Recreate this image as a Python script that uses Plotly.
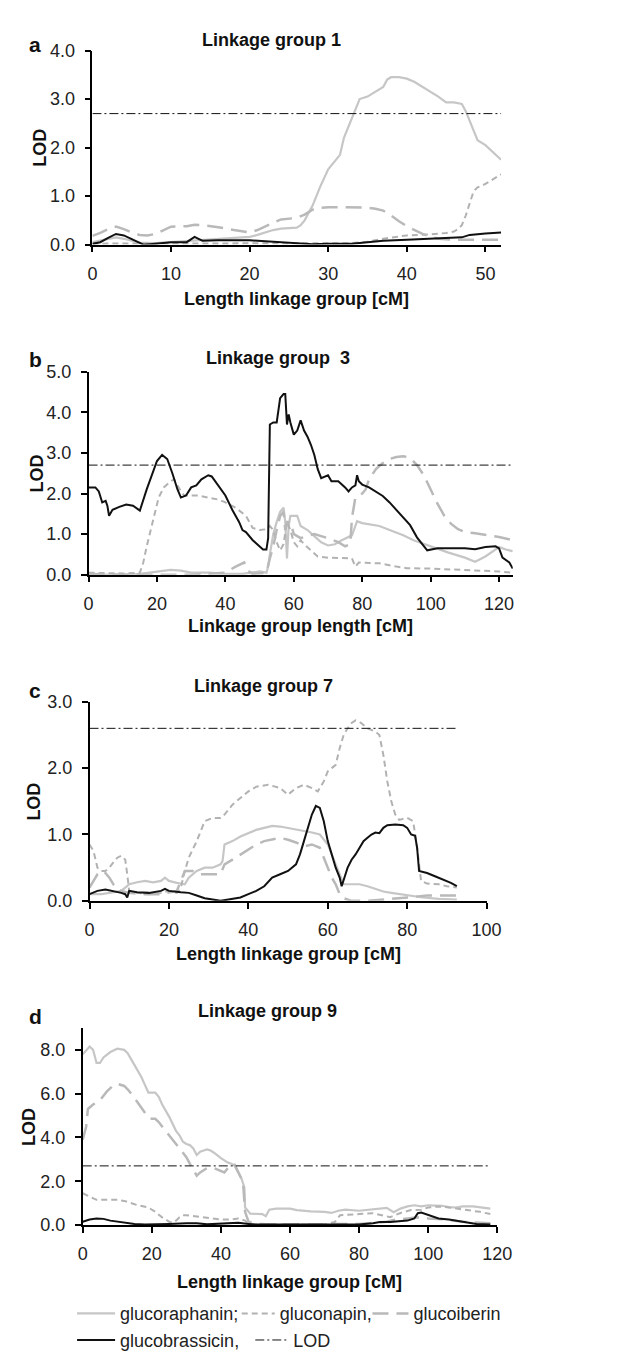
import plotly.graph_objects as go

# ---------------- DATA ----------------
# Linkage group 1
lg1_raphanin_x = [0,1,2,3,4,5,6,8,10,12,14,16,18,20,21,22,23,24,25,26,26.5,27,28,28.5,29,30,31,31.5,32,33,34,35,36,37,37.5,38,39,40,41,42,43,44,45,46,47,47.5,48,49,50,51,52]
lg1_raphanin_y = [0.05,0.08,0.12,0.15,0.12,0.08,0.04,0.03,0.05,0.07,0.1,0.12,0.14,0.16,0.2,0.25,0.3,0.33,0.34,0.35,0.4,0.5,0.8,1.0,1.2,1.55,1.75,1.85,2.2,2.6,3.0,3.05,3.15,3.25,3.4,3.45,3.45,3.42,3.35,3.25,3.15,3.05,2.93,2.93,2.9,2.75,2.55,2.15,2.05,1.9,1.75]
lg1_napin_x = [0,5,10,15,20,25,30,33,35,37,40,43,45,46,46.5,47,47.5,48,48.5,49,50,51,52]
lg1_napin_y = [0.02,0.02,0.03,0.03,0.03,0.02,0.02,0.03,0.06,0.12,0.19,0.21,0.24,0.27,0.32,0.4,0.6,0.85,1.1,1.18,1.25,1.35,1.45]
lg1_iberin_x = [0,1,2,3,4,5,6,7,8,9,10,12,13,14,16,18,20,21,22,23,24,26,27,28,29,30,32,34,35,36,37,38,39,40,41,42,43,44,46,48,50,52]
lg1_iberin_y = [0.18,0.24,0.32,0.37,0.32,0.25,0.2,0.19,0.22,0.3,0.37,0.38,0.41,0.4,0.36,0.3,0.25,0.3,0.38,0.45,0.52,0.55,0.62,0.72,0.76,0.77,0.77,0.77,0.76,0.74,0.7,0.6,0.48,0.38,0.3,0.22,0.16,0.12,0.1,0.1,0.1,0.1]
lg1_brassicin_x = [0,1,2,3,4,5,6,6.5,8,10,12,12.5,13,13.5,14,16,20,22,24,26,28,30,33,35,37,40,42,45,47,48,49,50,52]
lg1_brassicin_y = [0.02,0.05,0.14,0.22,0.19,0.12,0.04,0.0,0.02,0.05,0.05,0.1,0.16,0.12,0.08,0.09,0.09,0.07,0.05,0.04,0.01,0.02,0.02,0.05,0.08,0.1,0.11,0.13,0.15,0.2,0.22,0.23,0.25]
lg1_lod_x = [0, 52]
lg1_lod_y = [2.7, 2.7]

# Linkage group 3
lg3_raphanin_x = [0,10,15,20,24,27,30,35,40,45,48,50,52,52.5,53,54,55,56,57,57.5,58,58.5,59,61,62,64,66,68,70,72,74,76,77,78,78.5,80,85,88,92,95,100,105,110,113,116,120,122,124]
lg3_raphanin_y = [0.0,0.0,0.02,0.08,0.12,0.1,0.05,0.05,0.02,0.02,0.05,0.08,0.05,0.2,0.5,1.0,1.3,1.55,1.65,1.3,0.4,1.2,1.45,1.45,1.2,1.1,0.95,0.8,0.72,0.75,0.85,0.92,0.97,1.2,1.32,1.27,1.2,1.1,0.97,0.85,0.7,0.55,0.42,0.32,0.45,0.68,0.62,0.58]
lg3_napin_x = [0,10,15,16,17,18,19,20.5,22,24,25,26,27,28,30,32,35,38,40,43,46,48,50,52,53,54,55,56,57,58,59,60,61,62,63,65,67,70,75,77,77.5,78,79,85,90,93,100,110,120,124]
lg3_napin_y = [0.05,0.03,0.05,0.3,0.7,1.05,1.4,1.9,2.15,2.3,2.35,2.2,2.05,1.95,1.95,1.95,1.9,1.85,1.78,1.65,1.45,1.15,1.1,1.12,1.2,1.1,0.8,0.6,0.75,1.3,1.1,0.8,0.7,0.85,0.75,0.6,0.45,0.42,0.4,0.4,0.3,0.2,0.3,0.28,0.2,0.16,0.15,0.12,0.08,0.05]
lg3_iberin_x = [0,10,20,30,40,43,45.5,46.5,48,52,53,54,55,56,57,57.5,58,59,60,62,64,66,68,70,73,75,76.5,77,78,80,81,82,84,86,88,90,92,94,96,98,100,102,104,106,108,110,113,116,120,124]
lg3_iberin_y = [0.02,0.0,0.0,0.0,0.05,0.2,0.3,0.1,0.02,0.05,0.4,0.7,1.1,1.45,1.55,1.1,1.3,1.3,1.0,0.9,0.95,1.0,0.95,0.9,0.8,0.7,0.75,1.4,1.9,2.0,2.1,2.35,2.6,2.75,2.85,2.9,2.92,2.88,2.7,2.45,2.1,1.75,1.45,1.25,1.12,1.05,1.02,0.98,0.93,0.85]
lg3_brassicin_x = [0,2,3,4,5,5.5,6,7,9,11,13,15,17,19,20,21.5,23,24.5,26,27,28.5,30,31.5,33,35,36,38,40,42,44,45,46,48,50,51,52,52.5,53,54,55,55.5,56,57,57.5,58,58.5,59,60,61,62,63,64,65,66,67,68,70,71,73,75,76,77,78,78.5,79,80,82,84,86,88,90,92,94,96,98,99,102,105,108,110,113,116,119,120,121,123,124]
lg3_brassicin_y = [2.15,2.15,2.05,1.78,1.82,1.7,1.45,1.6,1.67,1.73,1.7,1.58,2.1,2.6,2.8,2.95,2.85,2.5,2.1,1.9,1.95,2.15,2.2,2.35,2.45,2.42,2.2,1.95,1.6,1.3,1.1,1.05,0.85,0.7,0.62,0.62,0.9,3.7,3.75,3.75,4.1,4.35,4.45,4.45,3.7,3.95,3.75,3.45,3.55,3.8,3.55,3.4,3.2,2.95,2.6,2.38,2.45,2.3,2.3,2.15,2.05,2.15,2.2,2.45,2.3,2.22,2.15,2.05,1.94,1.78,1.6,1.42,1.22,0.92,0.7,0.6,0.65,0.65,0.65,0.65,0.63,0.68,0.7,0.65,0.42,0.3,0.15]
lg3_lod_x = [0, 124]
lg3_lod_y = [2.7, 2.7]

# Linkage group 7
lg7_raphanin_x = [0,3,5,8,9,10,12,14,16,18,19,20,22,24,25,27,29,31,33,33.5,34,36,38,40,42,44,46,48,50,52,54,56,58,60,61,62,63,64,66,68,70,72,74,76,78,80,84,88,92.5]
lg7_raphanin_y = [0.1,0.1,0.12,0.15,0.2,0.25,0.28,0.3,0.28,0.3,0.35,0.3,0.27,0.25,0.35,0.45,0.5,0.5,0.55,0.6,0.85,0.9,0.97,1.02,1.07,1.1,1.13,1.12,1.1,1.08,1.05,1.03,1.0,0.85,0.7,0.55,0.4,0.25,0.25,0.25,0.22,0.18,0.14,0.12,0.1,0.08,0.05,0.03,0.02]
lg7_napin_x = [0,1,2,3,4,5,6,7,8,9,9.5,10,12,15,18,20,22,23,24,25,27,29,31,33,34,36,38,40,42,45,48,50,52,54,56,57.5,59,60,61,62,63,64,65,66,67,68,70,72,73,74,75,76,77,78,80,81.5,82.5,83,83.5,85,88,90,92.5]
lg7_napin_y = [0.85,0.75,0.5,0.45,0.45,0.5,0.58,0.65,0.68,0.62,0.4,0.15,0.12,0.1,0.12,0.15,0.12,0.2,0.45,0.65,0.9,1.2,1.25,1.25,1.3,1.45,1.55,1.65,1.72,1.75,1.7,1.6,1.7,1.75,1.7,1.65,1.8,1.95,2.0,2.05,2.3,2.5,2.6,2.68,2.72,2.7,2.6,2.55,2.5,2.2,1.8,1.5,1.3,1.22,1.25,1.2,0.8,0.5,0.3,0.26,0.25,0.22,0.2]
lg7_iberin_x = [0,1,2,3,4,5,6,7,8,10,14,18,20,22,23,24,26,28,33,34,36,38,40,42,44,46,48,50,52,54,56,58,59,60,61,62,63,64,66,70,75,80,85,92.5]
lg7_iberin_y = [0.2,0.3,0.4,0.45,0.42,0.35,0.25,0.18,0.15,0.12,0.1,0.1,0.12,0.15,0.3,0.45,0.45,0.4,0.4,0.55,0.62,0.7,0.78,0.85,0.9,0.93,0.95,0.92,0.88,0.82,0.85,0.8,0.65,0.5,0.35,0.25,0.1,0.04,0.0,0.0,0.02,0.05,0.08,0.08]
lg7_brassicin_x = [0,2,4,6,8,9,9.5,10,12,15,18,19,20,23,25,27,29,31,33,35,38,40,42,44,45,46,48,50,52,53,54,55,56,57,58,59,60,61,62,63,63.5,65,66,67,68,69,70,71,72,73,74,75,77,79,80,81,82,82.5,83,85,87,89,91,92.5]
lg7_brassicin_y = [0.1,0.15,0.17,0.15,0.12,0.1,0.05,0.15,0.13,0.12,0.15,0.18,0.15,0.13,0.12,0.08,0.04,0.02,0.0,0.02,0.05,0.1,0.15,0.22,0.28,0.35,0.4,0.45,0.55,0.7,0.9,1.1,1.3,1.43,1.4,1.2,0.9,0.7,0.5,0.35,0.22,0.5,0.62,0.7,0.8,0.9,0.95,1.0,1.03,1.02,1.1,1.14,1.15,1.14,1.1,1.0,0.98,0.8,0.45,0.42,0.37,0.32,0.27,0.22]
lg7_lod_x = [0, 92.5]
lg7_lod_y = [2.6, 2.6]

# Linkage group 9
lg9_raphanin_x = [0,1,2,3,4,5,6,8,10,12,13,15,17,18,19,21,22,23,25,27,28,29,30,31,32,33,34,35,36,37,38,40,42,43,44,45,46,46.8,47,48.5,50,52,53,54,56,60,62,66,70,72,74,76,80,84,86,88,90,92,94,96,98,100,104,106,108,110,113,118]
lg9_raphanin_y = [7.8,8.0,8.15,8.0,7.4,7.4,7.65,7.9,8.05,8.0,7.85,7.3,6.75,6.4,6.05,6.05,5.85,5.5,4.95,4.3,4.1,3.8,3.7,3.65,3.5,3.2,3.35,3.4,3.45,3.4,3.3,3.05,2.85,2.8,2.7,2.4,2.1,1.7,0.8,0.52,0.5,0.5,0.4,0.7,0.75,0.75,0.68,0.62,0.6,0.55,0.65,0.7,0.65,0.7,0.75,0.78,0.58,0.75,0.85,0.9,0.85,0.9,0.88,0.82,0.8,0.85,0.85,0.75]
lg9_napin_x = [0,2,4,6,8,10,12,14,16,19,21,23,25,26,27,28,29,30,33,36,40,43,45,47,48,50,55,60,70,73,74.5,80,84,89,92,95,98,100,103,106,110,115,118]
lg9_napin_y = [1.45,1.3,1.15,1.15,1.15,1.15,1.1,1.0,0.9,0.8,0.6,0.35,0.15,0.1,0.2,0.35,0.45,0.45,0.4,0.35,0.25,0.25,0.3,0.2,0.05,0.02,0.02,0.0,0.02,0.14,0.45,0.5,0.54,0.36,0.55,0.68,0.7,0.8,0.85,0.8,0.72,0.6,0.5]
lg9_iberin_x = [0,0.5,1,1.5,3,5,7,9,10,12,13,15,17,19,20,21,22,24,26,28,29,30,31,32,33,34,36,38,40,41,42,43,44,45,46,46.5,47,48,50,55,60,70,75,80,85,88,90,94,97,100,105,110,115,118]
lg9_iberin_y = [3.9,4.2,4.5,5.3,5.5,5.7,6.1,6.4,6.45,6.35,6.2,5.8,5.35,4.9,4.85,4.85,4.7,4.3,3.9,3.5,3.3,3.1,2.8,2.5,2.25,2.4,2.6,2.6,2.45,2.4,2.6,2.8,2.75,2.4,2.1,1.75,0.6,0.15,0.05,0.02,0.02,0.02,0.05,0.05,0.1,0.15,0.23,0.3,0.35,0.3,0.25,0.15,0.1,0.08]
lg9_brassicin_x = [0,2,4,6,8,10,12,15,18,20,25,30,33,36,40,45,48,50,60,70,80,84,86,89,92,94,96,97,98,100,103,106,110,114,118]
lg9_brassicin_y = [0.15,0.25,0.3,0.28,0.2,0.15,0.1,0.05,0.02,0.02,0.05,0.08,0.08,0.03,0.05,0.1,0.05,0.02,0.02,0.02,0.02,0.08,0.14,0.14,0.18,0.2,0.3,0.54,0.57,0.45,0.3,0.25,0.15,0.05,0.02]
lg9_lod_x = [0, 118]
lg9_lod_y = [2.7, 2.7]

series_names = ["glucoraphanin;", "gluconapin,", "glucoiberin", "glucobrassicin,", "LOD"]
panel_titles = ["Linkage group 1", "Linkage group  3", "Linkage group 7", "Linkage group 9"]
panel_letters = ["a", "b", "c", "d"]
x_titles = ["Length linkage group [cM]", "Linkage group length [cM]",
            "Length linkage group [cM]", "Length linkage group [cM]"]
y_title = "LOD"

panels_data = [
    [(lg1_raphanin_x, lg1_raphanin_y), (lg1_napin_x, lg1_napin_y), (lg1_iberin_x, lg1_iberin_y),
     (lg1_brassicin_x, lg1_brassicin_y), (lg1_lod_x, lg1_lod_y)],
    [(lg3_raphanin_x, lg3_raphanin_y), (lg3_napin_x, lg3_napin_y), (lg3_iberin_x, lg3_iberin_y),
     (lg3_brassicin_x, lg3_brassicin_y), (lg3_lod_x, lg3_lod_y)],
    [(lg7_raphanin_x, lg7_raphanin_y), (lg7_napin_x, lg7_napin_y), (lg7_iberin_x, lg7_iberin_y),
     (lg7_brassicin_x, lg7_brassicin_y), (lg7_lod_x, lg7_lod_y)],
    [(lg9_raphanin_x, lg9_raphanin_y), (lg9_napin_x, lg9_napin_y), (lg9_iberin_x, lg9_iberin_y),
     (lg9_brassicin_x, lg9_brassicin_y), (lg9_lod_x, lg9_lod_y)],
]

# ---------------- STYLE / LAYOUT ----------------
W, H = 635, 1361
FONT = "Liberation Sans, Arial, Helvetica, sans-serif"
TICK_SIZE = 18
TITLE_SIZE = 18


def fx(p):
    return p / W


def fy(p):
    return 1 - p / H


styles = [
    dict(color="#c6c6c6", width=2.2, dash="solid"),
    dict(color="#b2b2b2", width=2.0, dash="6px,4px"),
    dict(color="#b9b9b9", width=2.5, dash="16px,8px"),
    dict(color="#111111", width=2.0, dash="solid"),
    dict(color="#111111", width=1.0, dash="9px,3px,2px,3px"),
]

# pixel geometry of each panel: left, right, top, bottom
geom = [
    dict(l=82, r=504, t=33, b=230, xmax=52, ymax=4, dx=10, dy=1),
    dict(l=78, r=516, t=359, b=565, xmax=124, ymax=5, dx=20, dy=1),
    dict(l=79, r=489, t=694, b=896, xmax=100, ymax=3, dx=20, dy=1),
    dict(l=72, r=500, t=1025, b=1225, xmax=120, ymax=9, dx=20, dy=2),
]
title_pos = [(267, 22), (274, 345), (259, 678), (263, 1008)]
letter_pos = [(23, 27), (23, 347), (23, 683), (23, 1013)]
xtitle_y = [285, 617, 950, 1283]
ytitle_x = [27, 25, 22, 17]
# legend entry placement (one legend per entry): x of legend box, row centre y, sample width
legend_pos = [(61, 1315, 38), (231, 1315, 33), (366, 1315, 36), (61, 1342, 38), (245, 1342, 33)]

fig = go.Figure()
annotations = []
layout_axes = {}
legend_ids = ["legend", "legend2", "legend3", "legend4", "legend5"]

for i, (g, data) in enumerate(zip(geom, panels_data)):
    n = "" if i == 0 else str(i + 1)
    for k, ((xs, ys), st) in enumerate(zip(data, styles)):
        fig.add_trace(go.Scatter(
            x=xs, y=ys, mode="lines", name=series_names[k],
            line=dict(color=st["color"], width=st["width"], dash=st["dash"]),
            xaxis="x" + n, yaxis="y" + n,
            showlegend=(i == 3),
            legend=legend_ids[k],
            hoverinfo="skip",
        ))
    common = dict(showline=True, linecolor="black", linewidth=1.5, ticks="outside",
                  ticklen=6, tickwidth=1.5, tickcolor="black", showgrid=False,
                  zeroline=False, tickfont=dict(family=FONT, size=TICK_SIZE, color="#222"))
    layout_axes["xaxis" + n] = dict(domain=[fx(g["l"]), fx(g["r"])], range=[0, g["xmax"]],
                                    anchor="y" + n, tick0=0, dtick=g["dx"],
                                    ticklabelstandoff=6, **common)
    layout_axes["yaxis" + n] = dict(domain=[fy(g["b"]), fy(g["t"])], range=[0, g["ymax"]],
                                    anchor="x" + n, tick0=0, dtick=g["dy"], tickformat=".1f",
                                    ticklabelstandoff=6, **common)
    annotations.append(dict(text="<b>%s</b>" % panel_titles[i], x=fx(title_pos[i][0]),
                            y=fy(title_pos[i][1]), xref="paper", yref="paper",
                            showarrow=False, xanchor="center", yanchor="middle",
                            font=dict(family=FONT, size=TITLE_SIZE, color="#111")))
    annotations.append(dict(text="<b>%s</b>" % panel_letters[i], x=fx(letter_pos[i][0]),
                            y=fy(letter_pos[i][1]), xref="paper", yref="paper",
                            showarrow=False, xanchor="center", yanchor="middle",
                            font=dict(family=FONT, size=21, color="#111")))
    annotations.append(dict(text="<b>%s</b>" % x_titles[i], x=fx((g["l"] + g["r"]) / 2),
                            y=fy(xtitle_y[i]), xref="paper", yref="paper",
                            showarrow=False, xanchor="center", yanchor="middle",
                            font=dict(family=FONT, size=TITLE_SIZE, color="#111")))
    annotations.append(dict(text="<b>%s</b>" % y_title, x=fx(ytitle_x[i]),
                            y=fy((g["t"] + g["b"]) / 2), xref="paper", yref="paper",
                            showarrow=False, xanchor="center", yanchor="middle", textangle=-90,
                            font=dict(family=FONT, size=TITLE_SIZE, color="#111")))

legends = {}
for lid, (lx, ly, iw) in zip(legend_ids, legend_pos):
    legends[lid] = dict(orientation="h", xanchor="left", yanchor="middle",
                        x=fx(lx), y=fy(ly), itemwidth=iw,
                        bgcolor="rgba(0,0,0,0)", borderwidth=0,
                        font=dict(family=FONT, size=TICK_SIZE, color="#222"))

fig.update_layout(
    width=W, height=H,
    margin=dict(l=0, r=0, t=0, b=0),
    paper_bgcolor="white", plot_bgcolor="white",
    font=dict(family=FONT, size=TICK_SIZE, color="#222"),
    annotations=annotations,
    **legends,
    **layout_axes,
)

fig.write_html("out.html")
